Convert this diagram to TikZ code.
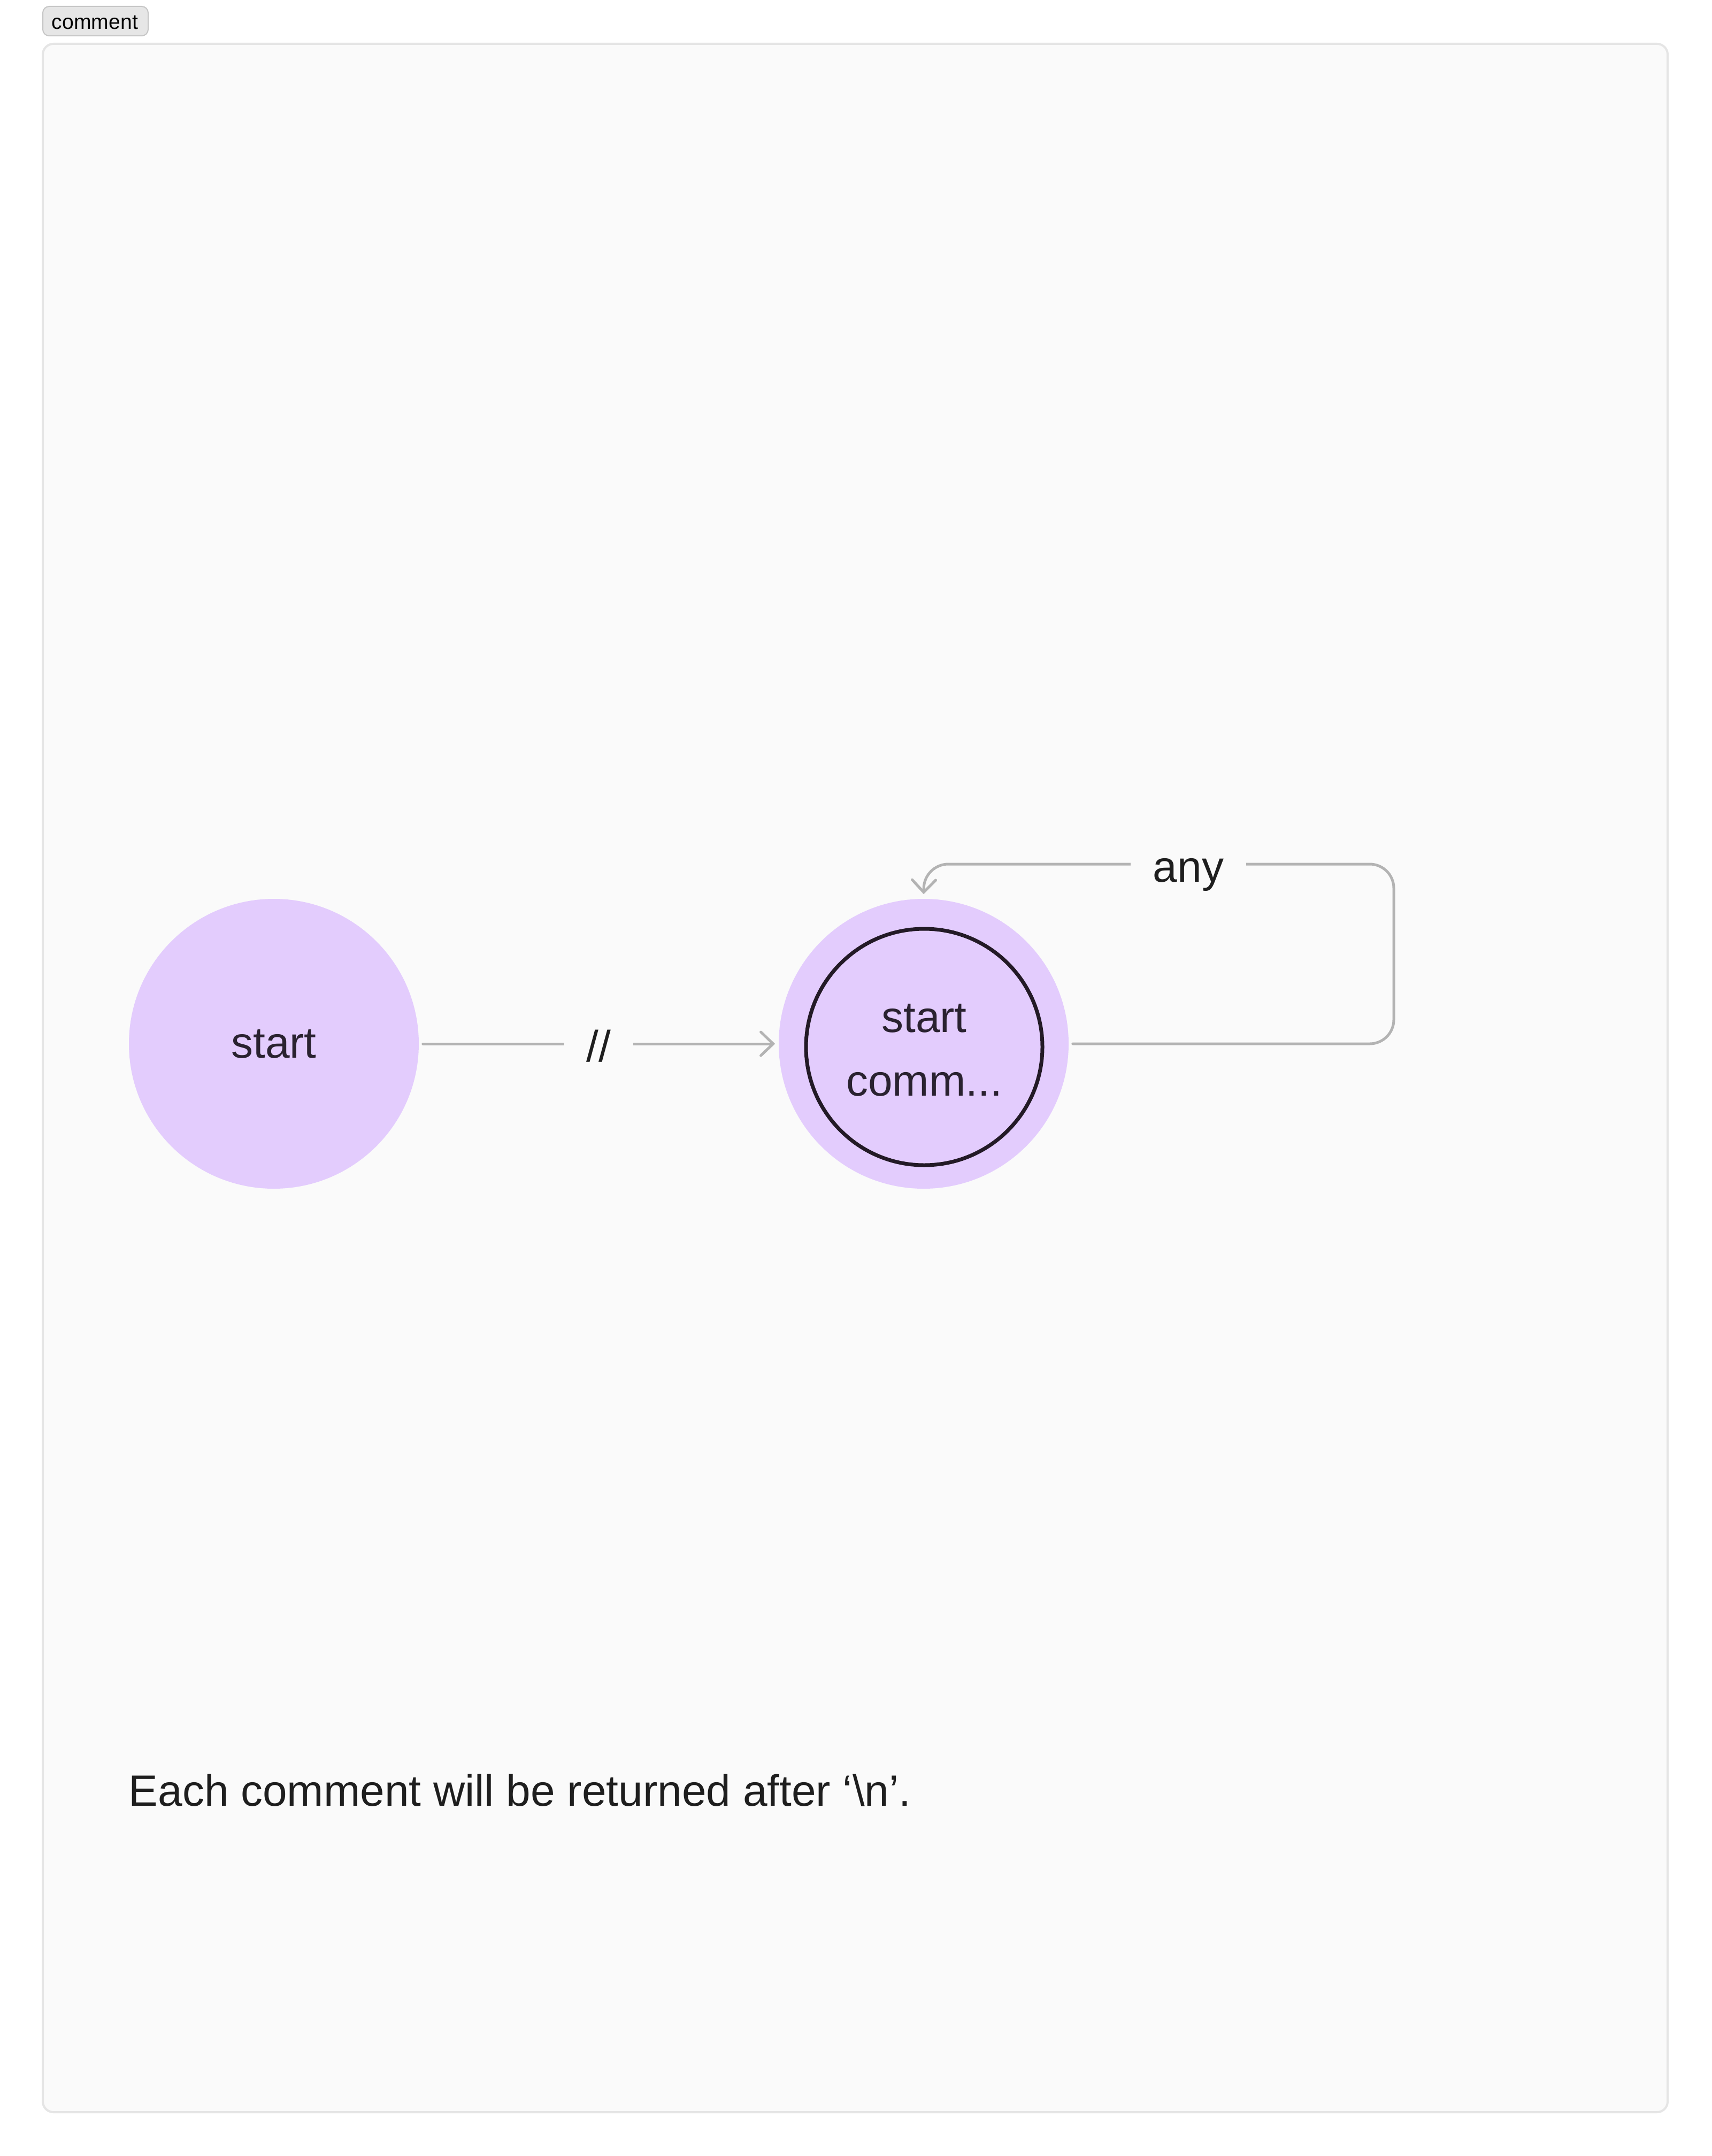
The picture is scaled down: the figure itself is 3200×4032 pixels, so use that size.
\documentclass[tikz,border=0pt]{standalone}
\usepackage{fontspec}
\setmainfont{Liberation Sans}
\usetikzlibrary{arrows.meta}
\definecolor{pagebg}{HTML}{FFFFFF}
\definecolor{framebg}{HTML}{FAFAFA}
\definecolor{framestroke}{HTML}{E5E5E5}
\definecolor{tabfill}{HTML}{E6E6E6}
\definecolor{tabstroke}{HTML}{C6C6C6}
\definecolor{statefill}{HTML}{E3CCFD}
\definecolor{edgegray}{HTML}{B3B3B3}
\definecolor{nodetext}{HTML}{2A2230}
\definecolor{ringcol}{HTML}{231A26}
\definecolor{maintext}{HTML}{1E1E1E}
\begin{document}
\begin{tikzpicture}[x=0.25pt,y=-0.25pt,
  bigfont/.style={font=\fontsize{20.5pt}{24pt}\selectfont},
  statenode/.style={circle, fill=statefill, draw=none, minimum size=135.5pt, inner sep=0pt, text=nodetext, bigfont},
  ringnode/.style={circle, draw=ringcol, line width=1.75pt, minimum size=110.5pt, inner sep=0pt},
  statetext/.style={text=nodetext, bigfont, inner sep=0pt, anchor=base},
  edge/.style={draw=edgegray, line width=1.25pt, line cap=round, line join=round,
    -{Straight Barb[length=5.75pt,width=11pt,line cap=round]}},
  lbl/.style={fill=framebg, text=maintext, bigfont, inner xsep=10.5pt, inner ysep=2pt,
    text height=16.5pt, text depth=0pt}
]
\useasboundingbox[fill=pagebg] (0,0) rectangle (3200,4032);
% frame
\draw[fill=framebg, draw=framestroke, line width=1pt, rounded corners=5pt] (80,82) rectangle (3118,3950);
% tab
\draw[fill=tabfill, draw=tabstroke, line width=0.5pt, rounded corners=3pt] (80,12) rectangle (277,67);
\node[anchor=base, inner sep=0pt, font=\fontsize{9.8pt}{11pt}\selectfont, text=black] (tab) at (177.5,55) {comment};
% states
\node[statenode] (s1) at (512,1952) {start};
\node[statenode] (s2) at (1727,1952) {};
\node[ringnode] (s2ring) at (1728,1958) {};
\node[statetext] (s2a) at (1728,1930) {start};
\node[statetext] (s2b) at (1728,2049) {comm...};
% edges
\draw[edge, shorten <=1.75pt, shorten >=1.5pt] (s1) -- node[lbl] (l1) {//} (s2);
\coordinate (lp1) at (2606,1952);
\coordinate (lp2) at (2606,1616);
\coordinate (lp3) at (1728,1616);
\draw[edge, rounded corners=11.25pt] ([xshift=1.75pt]s2.east) -- (lp1) -- (lp2) -- (lp3) -- ([yshift=2pt]s2.north);
\node[lbl] (l2) at (2222,1616) {any};
% note
\node[anchor=base west, inner sep=0pt, text=maintext, bigfont] (note) at (240,3377) {Each comment will be returned after ‘\textbackslash n’.};
\end{tikzpicture}
\end{document}
